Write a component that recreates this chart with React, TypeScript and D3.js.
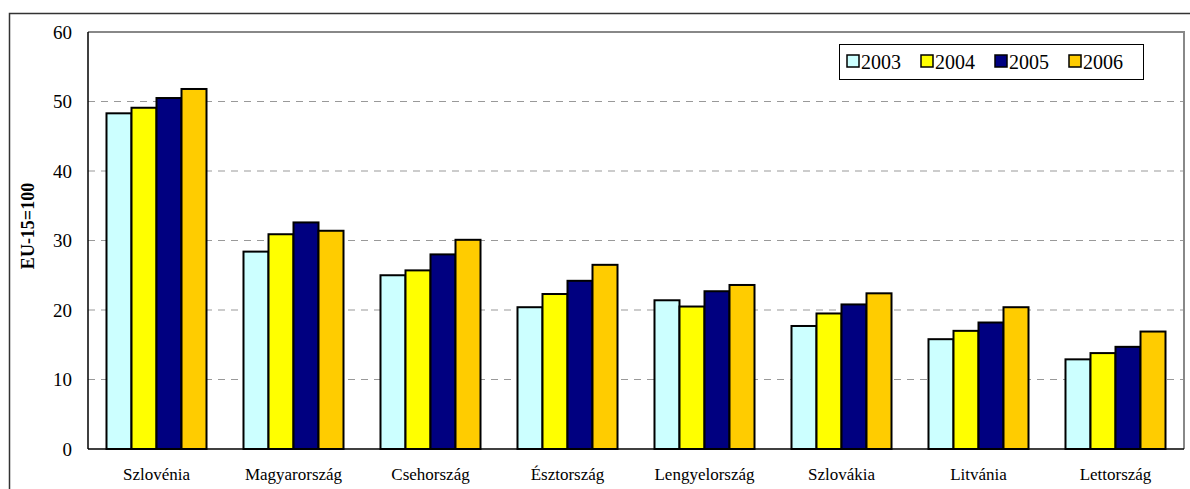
import React, { useEffect, useRef } from 'react';
import * as d3 from 'd3';

const countries = ['Szlovénia', 'Magyarország', 'Csehország', 'Észtország', 'Lengyelország', 'Szlovákia', 'Litvánia', 'Lettország'];
const years = ['2003', '2004', '2005', '2006'];
const v2003 = [48.3, 28.4, 25.0, 20.4, 21.4, 17.7, 15.8, 12.9];
const v2004 = [49.1, 30.9, 25.7, 22.3, 20.5, 19.5, 17.0, 13.8];
const v2005 = [50.5, 32.6, 28.0, 24.2, 22.7, 20.8, 18.2, 14.7];
const v2006 = [51.8, 31.4, 30.1, 26.5, 23.6, 22.4, 20.4, 16.9];
const yTicks = [0, 10, 20, 30, 40, 50, 60];
const colors = ['#ccffff', '#ffff00', '#000080', '#ffcc00'];

const App: React.FC = () => {
  const svgRef = useRef<SVGSVGElement>(null);

  useEffect(() => {
    if (!svgRef.current) return;
    const svg = d3.select(svgRef.current);
    svg.selectAll('*').remove();

    const series = [v2003, v2004, v2005, v2006];
    const left = 88, right = 1184, top = 32, bottom = 449;

    // outer frame
    svg.append('rect')
      .attr('x', 9.5).attr('y', 13.5)
      .attr('width', 1190).attr('height', 500)
      .attr('fill', 'white')
      .attr('stroke', '#333').attr('stroke-width', 1.5);

    const x = d3.scaleBand<string>()
      .domain(countries)
      .range([left, right])
      .paddingInner(0.27)
      .paddingOuter(0.135);

    const xi = d3.scaleBand<string>()
      .domain(years)
      .range([0, x.bandwidth()]);

    const y = d3.scaleLinear().domain([0, 60]).range([bottom, top]);

    // gridlines
    svg.append('g')
      .selectAll('line')
      .data(yTicks.filter(t => t > 0 && t < 60))
      .enter()
      .append('line')
      .attr('x1', left).attr('x2', right)
      .attr('y1', d => y(d)).attr('y2', d => y(d))
      .attr('stroke', '#999')
      .attr('stroke-dasharray', '7,6')
      .attr('stroke-width', 1);

    // plot border (top & right gray)
    svg.append('path')
      .attr('d', `M${left},${top}H${right}V${bottom}`)
      .attr('fill', 'none')
      .attr('stroke', '#888')
      .attr('stroke-width', 2);

    // bars
    series.forEach((vals, si) => {
      svg.append('g')
        .selectAll('rect')
        .data(vals)
        .enter()
        .append('rect')
        .attr('x', (d, i) => (x(countries[i]) || 0) + (xi(years[si]) || 0))
        .attr('y', d => y(d))
        .attr('width', xi.bandwidth())
        .attr('height', d => bottom - y(d))
        .attr('fill', colors[si])
        .attr('stroke', '#000')
        .attr('stroke-width', 2);
    });

    // axes
    svg.append('line')
      .attr('x1', left).attr('x2', left)
      .attr('y1', top).attr('y2', bottom)
      .attr('stroke', '#000').attr('stroke-width', 1.5);
    svg.append('line')
      .attr('x1', left).attr('x2', right)
      .attr('y1', bottom).attr('y2', bottom)
      .attr('stroke', '#000').attr('stroke-width', 1.5);

    svg.append('g')
      .selectAll('text')
      .data(yTicks)
      .enter()
      .append('text')
      .attr('x', 72)
      .attr('y', d => y(d))
      .attr('dy', '0.35em')
      .attr('text-anchor', 'end')
      .attr('font-size', 19)
      .text(d => d);

    svg.append('g')
      .selectAll('text')
      .data(countries)
      .enter()
      .append('text')
      .attr('x', d => (x(d) || 0) + x.bandwidth() / 2)
      .attr('y', 480)
      .attr('text-anchor', 'middle')
      .attr('font-size', 17)
      .text(d => d);

    svg.append('text')
      .attr('transform', 'rotate(-90)')
      .attr('x', -226)
      .attr('y', 34)
      .attr('text-anchor', 'middle')
      .attr('font-size', 18)
      .attr('font-weight', 'bold')
      .text('EU-15=100');

    // legend
    const legend = svg.append('g').attr('transform', 'translate(839,44)');
    legend.append('rect')
      .attr('x', 0.5).attr('y', 0.5)
      .attr('width', 304).attr('height', 35)
      .attr('fill', 'white')
      .attr('stroke', '#000').attr('stroke-width', 1);
    const lx = [8, 82, 156, 230];
    years.forEach((yr, i) => {
      legend.append('rect')
        .attr('x', lx[i]).attr('y', 11)
        .attr('width', 12).attr('height', 12)
        .attr('fill', colors[i])
        .attr('stroke', '#000').attr('stroke-width', 1.5);
      legend.append('text')
        .attr('x', lx[i] + 14)
        .attr('y', 25)
        .attr('font-size', 20)
        .text(yr);
    });
  }, []);

  return (
    <svg
      ref={svgRef}
      width={1190}
      height={489}
      fontFamily="'Liberation Serif', 'Times New Roman', serif"
      style={{ position: 'absolute', left: 0, top: 0, background: 'white' }}
    />
  );
};

export default App;
